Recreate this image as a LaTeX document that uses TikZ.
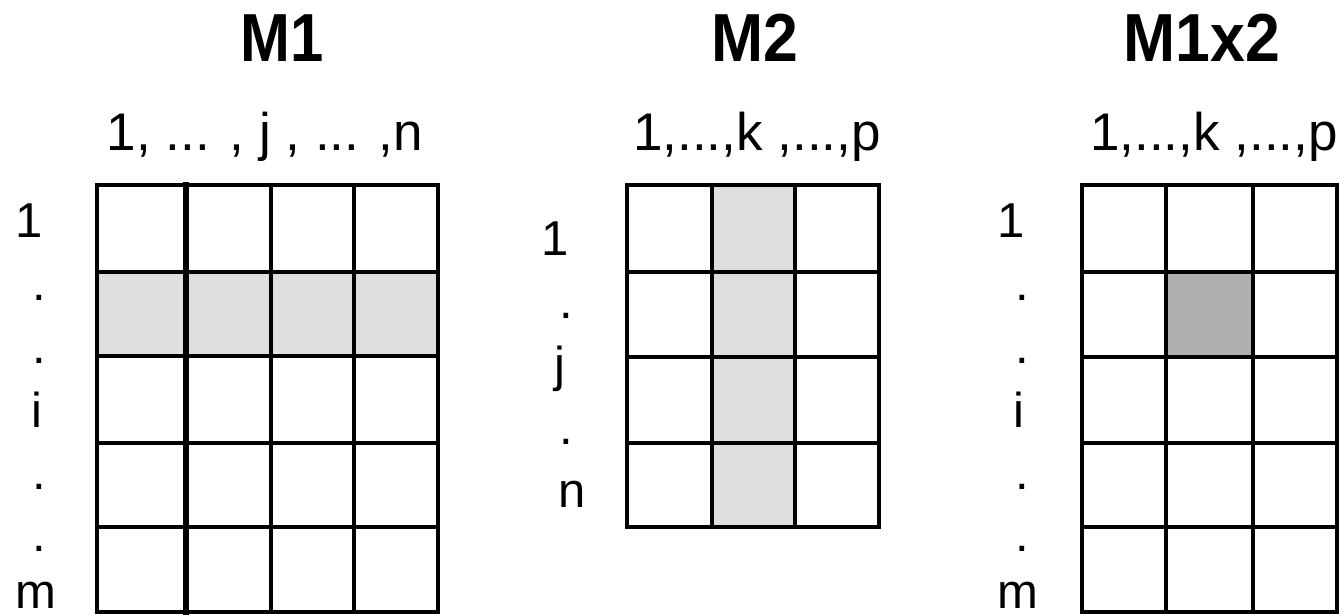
\documentclass[tikz,border=0pt]{standalone}
\usepackage{fontspec}
\setmainfont{Liberation Sans}
\definecolor{lightshade}{HTML}{DEDEDE}
\definecolor{darkshade}{HTML}{B0B0B0}
\begin{document}
\begin{tikzpicture}[x=1pt,y=-1pt,
  title/.style={anchor=base,inner sep=0pt,font=\fontsize{68}{70}\selectfont\bfseries},
  header/.style={anchor=base,inner sep=0pt,font=\fontsize{53}{60}\selectfont},
  rowlab/.style={anchor=base,inner sep=0pt,font=\fontsize{49}{56}\selectfont},
  gridline/.style={line width=3.5pt,line cap=rect},
  heavyline/.style={line width=6pt,line cap=rect}]
\useasboundingbox (0,0) rectangle (1344,614);
\fill[white] (0,0) rectangle (1344,614);

% ---------- M1 ----------
\fill[lightshade] (97,272) rectangle (438,356);
\foreach \x in {97,271,354,438} \draw[gridline] (\x,185) -- (\x,612);
\foreach \y in {185,272,356,443,527,612} \draw[gridline] (97,\y) -- (438,\y);
\draw[heavyline] (186,185) -- (186,612);

% ---------- M2 ----------
\fill[lightshade] (712,185) rectangle (795,527);
\foreach \x in {627,712,795,879} \draw[gridline] (\x,185) -- (\x,527);
\foreach \y in {185,272,357,443,527} \draw[gridline] (627,\y) -- (879,\y);

% ---------- M1x2 ----------
\fill[darkshade] (1166,272) rectangle (1253,357);
\foreach \x in {1082,1166,1253,1337} \draw[gridline] (\x,185) -- (\x,612);
\foreach \y in {185,272,357,443,527,612} \draw[gridline] (1082,\y) -- (1337,\y);

% ---------- titles ----------
\node[title] (t1) at (282,61) {\scalebox{0.88}[1]{M1}};
\node[title] (t2) at (755,61) {\scalebox{0.92}[1]{M2}};
\node[title] (t3) at (1202,61) {\scalebox{0.92}[1]{M1x2}};

% ---------- column headers ----------
\node[header] (h1) at (265,150) {1, ... , j , ... ,n};
\node[header] (h2) at (757,150) {1,...,k ,...,p};
\node[header] (h3) at (1214,150) {1,...,k ,...,p};

% ---------- row labels M1 ----------
\node[rowlab] (a1) at (29,237) {1};
\node[rowlab] (a2) at (39,300) {.};
\node[rowlab] (a3) at (39,363) {.};
\node[rowlab] (a4) at (37,427) {i};
\node[rowlab] (a5) at (39,489) {.};
\node[rowlab] (a6) at (39,551) {.};
\node[rowlab] (a7) at (36,608) {m};

% ---------- row labels M2 ----------
\node[rowlab] (b1) at (555,255) {1};
\node[rowlab] (b2) at (566,318) {.};
\node[rowlab] (b3) at (560,381) {j};
\node[rowlab] (b4) at (566,444) {.};
\node[rowlab] (b5) at (572,507) {n};

% ---------- row labels M1x2 ----------
\node[rowlab] (c1) at (1011,237) {1};
\node[rowlab] (c2) at (1022,300) {.};
\node[rowlab] (c3) at (1022,363) {.};
\node[rowlab] (c4) at (1019,427) {i};
\node[rowlab] (c5) at (1022,489) {.};
\node[rowlab] (c6) at (1022,551) {.};
\node[rowlab] (c7) at (1018,608) {m};
\end{tikzpicture}
\end{document}
